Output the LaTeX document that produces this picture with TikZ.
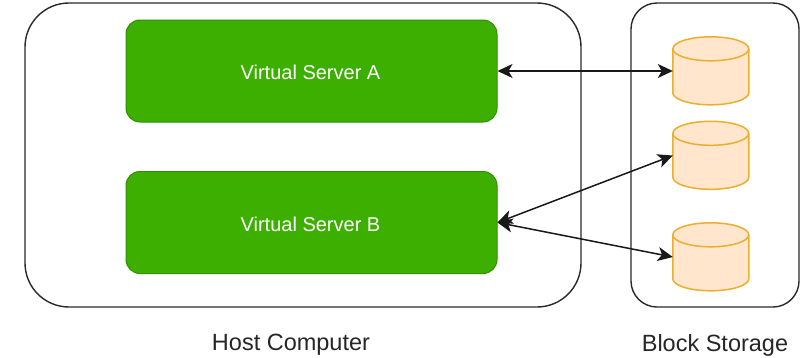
\documentclass[tikz,border=0pt]{standalone}
\usepackage{fontspec}
\setmainfont{Liberation Sans}
\usetikzlibrary{arrows.meta}
\definecolor{srvfill}{HTML}{3DAF00}
\definecolor{srvline}{HTML}{2D9000}
\definecolor{cylfill}{HTML}{FFE6CC}
\definecolor{cylline}{HTML}{EDAE30}
\definecolor{frameline}{HTML}{2A2A2A}
\tikzset{
  framebox/.style={draw=frameline,line width=1.4pt,fill=white,inner sep=0pt},
  server/.style={draw=srvline,line width=1pt,fill=srvfill,rounded corners=14pt,inner sep=0pt,minimum width=371pt,minimum height=102pt,text=white,font=\fontsize{20}{24}\selectfont},
  caption/.style={font=\fontsize{23.5}{28}\selectfont,text=black!85,inner sep=0pt},
  cylanchor/.style={inner sep=0pt,minimum width=76pt,minimum height=68pt},
  cylbody/.style={draw=cylline,line width=1.5pt,fill=cylfill},
  link/.style={draw=black!90,line width=1.5pt,{Stealth[length=15pt,width=14pt,inset=4pt]}-{Stealth[length=15pt,width=14pt,inset=4pt]}}
}
\newcommand{\storagecyl}[3]{%
  \node[cylanchor] (#1) at (#2,#3) {};
  \path[cylbody] (#1.north west) ++(0,-12) arc[start angle=180,end angle=0,x radius=38,y radius=12]
    -- ++(0,-44) arc[start angle=0,end angle=-180,x radius=38,y radius=12] -- cycle;
  \path[cylbody,fill=none] (#1.north west) ++(0,-12) arc[start angle=180,end angle=360,x radius=38,y radius=12];
}
\begin{document}
\begin{tikzpicture}[x=1pt,y=1pt]
\useasboundingbox (0,0) rectangle (807,-357);
\node[framebox,rounded corners=44pt,minimum width=556pt,minimum height=304pt] (host) at (303,-155) {};
\node[framebox,rounded corners=26pt,minimum width=168pt,minimum height=304pt] (block) at (715,-155) {};
\node[server,text depth=0pt] (a) at (311.5,-71) {\raisebox{-2.5pt}{\hspace{-2pt}Virtual Server A}};
\node[server,text depth=0pt] (b) at (311.5,-222.5) {\raisebox{-2.5pt}{\hspace{-2pt}Virtual Server B}};
\storagecyl{c1}{711}{-71}
\storagecyl{c2}{711}{-155.5}
\storagecyl{c3}{711}{-257}
\draw[link] (a.east) -- (c1.west);
\draw[link] (b.east) -- (c2.west);
\draw[link] (b.east) -- (c3.west);
\node[caption] (hostlabel) at (291,-345) {Host Computer};
\node[caption] (blocklabel) at (715,-345) {Block Storage};
\end{tikzpicture}
\end{document}
